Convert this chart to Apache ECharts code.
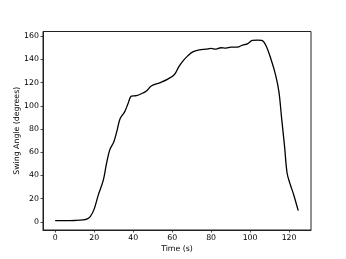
<!DOCTYPE html>
<html><head><meta charset="utf-8">
<script src="https://cdn.jsdelivr.net/npm/echarts@6/dist/echarts.min.js"></script>
<style>html,body{margin:0;padding:0;background:#fff}#c{width:346px;height:259px}</style>
</head><body><div id="c"></div>
<script>
const timeS = [0, 5, 10, 14.4, 16.5, 18, 20, 22.1, 24.7, 26.3, 28, 30.1, 31.8, 33.2, 35.7, 37.4, 39.1, 41.7, 45, 46.8, 49.3, 53.6, 57.8, 61.2, 63.4, 65.5, 68, 70.6, 74, 77.4, 79.9, 82.5, 85, 87.6, 90.1, 93.5, 96.1, 98.6, 101.2, 103.7, 106, 108, 110.6, 113.1, 114.8, 116.2, 117.7, 119, 120.7, 122.4, 124.7];
const angleDeg = [1.1, 1.0, 1.2, 1.7, 2.6, 4.5, 11, 23, 36, 50, 62, 69, 79, 88.5, 95, 102, 108.4, 108.7, 111, 112.7, 117, 119.8, 123, 127, 133.6, 138.5, 143, 146.5, 148.2, 148.8, 149.4, 148.8, 150, 149.7, 150.5, 150.5, 152.3, 153.4, 156.3, 156.6, 156.3, 152.3, 140.8, 126.5, 112, 89, 64.8, 41.9, 31.8, 23.2, 9.7];
const xTicks = [0, 20, 40, 60, 80, 100, 120];
const yTicks = [0, 20, 40, 60, 80, 100, 120, 140, 160];

const font = 'DejaVu Sans';
const chart = echarts.init(document.getElementById('c'), null, {renderer: 'canvas'});
chart.setOption({
  animation: false,
  grid: {left: 43, right: 35, top: 31.5, bottom: 29, containLabel: false, outerBoundsMode: 'none', show: true, borderColor: '#222', borderWidth: 1, backgroundColor: 'transparent'},
  xAxis: {
    type: 'value', min: -6.25, max: 131.25,
    name: 'Time (s)', nameLocation: 'middle', nameGap: 15, nameMoveOverlap: false,
    nameTextStyle: {fontFamily: font, fontSize: 7.8, color: '#000', verticalAlign: 'top'},
    axisLine: {show: true, onZero: false, lineStyle: {color: '#222', width: 1}},
    splitLine: {show: false},
    axisTick: {show: true, inside: false, length: 2.5, lineStyle: {color: '#222', width: 0.8}, customValues: xTicks},
    axisLabel: {fontFamily: font, fontSize: 7.8, color: '#000', margin: 4, customValues: xTicks}
  },
  yAxis: {
    type: 'value', min: -7, max: 164,
    name: 'Swing Angle (degrees)', nameLocation: 'middle', nameGap: 22, nameMoveOverlap: false,
    nameTextStyle: {fontFamily: font, fontSize: 7.8, color: '#000'},
    axisLine: {show: true, onZero: false, lineStyle: {color: '#222', width: 1}},
    splitLine: {show: false},
    axisTick: {show: true, inside: false, length: 2.5, lineStyle: {color: '#222', width: 0.8}, customValues: yTicks},
    axisLabel: {fontFamily: font, fontSize: 7.8, color: '#000', margin: 4, customValues: yTicks}
  },
  series: [{
    type: 'line', smooth: 0.35, showSymbol: false,
    data: timeS.map((t, i) => [t, angleDeg[i]]),
    lineStyle: {color: '#000', width: 1.3}
  }]
});
</script></body></html>
